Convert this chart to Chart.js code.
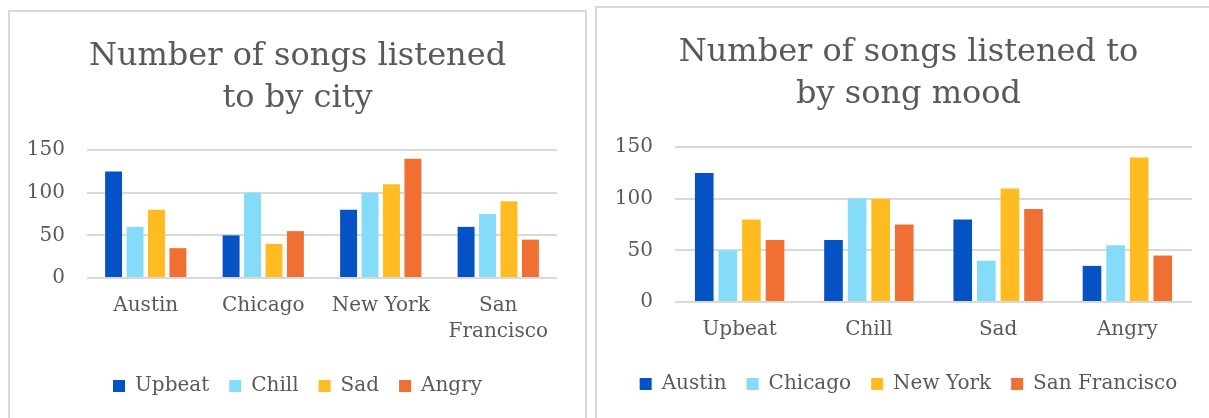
<!DOCTYPE html>
<html>
<head>
<meta charset="utf-8">
<script src="https://cdn.jsdelivr.net/npm/chart.js@4.4.1/dist/chart.umd.min.js"></script>
<style>
    html, body { margin: 0; padding: 0; background: #fff; overflow: hidden; }
    body { width: 1209px; height: 418px; position: relative; }
    .panel {
        position: absolute;
        border: 2px solid #d9d9d9;
        border-bottom: none;
        background: #fff;
    }
    #leftPanel { left: 8px; top: 10px; width: 575px; height: 410px; }
    #rightPanel { left: 595px; top: 6px; width: 623px; height: 414px; }
    canvas { display: block; }
</style>
</head>
<body>
<div class="panel" id="leftPanel"><canvas id="cityChart" width="575" height="406"></canvas></div>
<div class="panel" id="rightPanel"><canvas id="moodChart" width="623" height="410"></canvas></div>
<script>
// values
const cities = ['Austin', 'Chicago', 'New York', 'San Francisco'];
const cityTicks = ['Austin', 'Chicago', 'New York', ['San', 'Francisco']];
const moods = ['Upbeat', 'Chill', 'Sad', 'Angry'];

// songs per city, one array per mood
const upbeat = [125, 50, 80, 60];
const chill = [60, 100, 100, 75];
const sad = [80, 40, 110, 90];
const angry = [35, 55, 140, 45];

const yTicks = [0, 50, 100, 150];

const colors = ['#0452c4', '#84dcf8', '#ffbc21', '#f07034'];
const textColor = '#595959';
const gridColor = '#d9d9d9';
const fontFamily = '"DejaVu Serif", Georgia, serif';

const moodSeries = [upbeat, chill, sad, angry];
// the same table turned around: songs per mood, one array per city
const citySeries = cities.map((c, i) => moodSeries.map(s => s[i]));

function makeOptions(title, titlePad, yWidth, xHeight, bottomPad) {
    return {
        responsive: false,
        animation: false,
        layout: { padding: { left: 0, right: 0, top: 0, bottom: bottomPad } },
        plugins: {
            title: {
                display: true,
                text: title,
                color: textColor,
                font: { family: fontFamily, size: 32, weight: 'normal', lineHeight: 1.33 },
                padding: titlePad
            },
            legend: {
                position: 'bottom',
                labels: {
                    color: textColor,
                    boxWidth: 12,
                    boxHeight: 12,
                    padding: 20,
                    font: { family: fontFamily, size: 20 }
                }
            },
            tooltip: { enabled: false }
        },
        scales: {
            x: {
                grid: { display: false },
                border: { display: false },
                ticks: {
                    color: textColor,
                    padding: 7,
                    maxRotation: 0,
                    autoSkip: false,
                    font: { family: fontFamily, size: 20, lineHeight: 1.3 }
                },
                afterFit: (scale) => { scale.height = xHeight; }
            },
            y: {
                min: 0,
                max: 150,
                afterBuildTicks: (scale) => { scale.ticks = yTicks.map(v => ({ value: v })); },
                grid: { color: gridColor, lineWidth: 2, drawTicks: false },
                border: { display: false },
                ticks: {
                    color: textColor,
                    padding: 22,
                    font: { family: fontFamily, size: 20 }
                },
                afterFit: (scale) => { scale.width = yWidth; }
            },
            // empty axis that only keeps the right margin, so title and legend stay centred
            gap: {
                type: 'linear',
                position: 'right',
                grid: { display: false },
                border: { display: false },
                ticks: { display: false },
                afterFit: (scale) => { scale.width = 28; }
            }
        }
    };
}

function makeDatasets(names, series) {
    return names.map((name, i) => ({
        label: name,
        data: series[i],
        yAxisID: 'y',
        backgroundColor: colors[i],
        borderWidth: 0,
        categoryPercentage: 0.73,
        barPercentage: 0.79
    }));
}

new Chart(document.getElementById('cityChart'), {
    type: 'bar',
    data: { labels: cityTicks, datasets: makeDatasets(moods, moodSeries) },
    options: makeOptions(['Number of songs listened', 'to by city'], { top: 23, bottom: 30 }, 77, 78, 12)
});

new Chart(document.getElementById('moodChart'), {
    type: 'bar',
    data: { labels: moods, datasets: makeDatasets(cities, citySeries) },
    options: makeOptions(['Number of songs listened to', 'by song mood'], { top: 23, bottom: 31 }, 78, 52, 14)
});
</script>
</body>
</html>
